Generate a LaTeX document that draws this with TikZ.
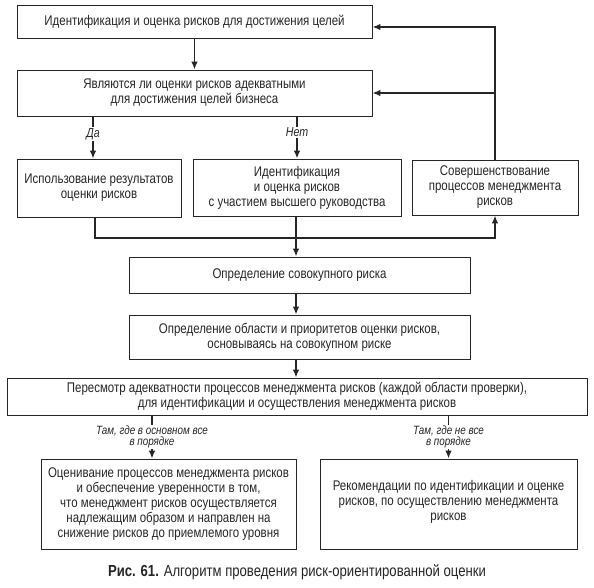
\documentclass[tikz,border=0pt]{standalone}
\usepackage{fontspec}
\setmainfont{Liberation Sans}[FakeStretch=0.82]
\usetikzlibrary{arrows.meta}
\begin{document}
\begin{tikzpicture}[x=1pt,y=-1pt,
  box/.style={draw=black!85, line width=0.8pt, align=center, inner sep=0pt, text=black!85,
    font=\fontsize{14}{15}\selectfont},
  conn/.style={line width=1.8pt, draw=black!85, line join=miter},
  arr/.style={conn, -{Latex[length=8pt,width=6.5pt]}},
  lbl/.style={fill=white, inner sep=1pt, text=black!85, align=center,
    font=\fontsize{12}{11.5}\selectfont\itshape}]
\useasboundingbox[fill=white] (0,0) rectangle (594,588);

\node[box, minimum width=355pt, minimum height=33pt] (b1) at (194.5,21.5)
  {Идентификация и оценка рисков для достижения целей};
\node[box, minimum width=355pt, minimum height=46pt] (b2) at (194.5,93)
  {Являются ли оценки рисков адекватными\\для достижения целей бизнеса};
\node[box, minimum width=164pt, minimum height=58pt] (A) at (99,188)
  {Использование результатов\\оценки рисков};
\node[box, minimum width=208pt, minimum height=57pt] (B) at (297,187.5)
  {Идентификация\\и оценка рисков\\с участием высшего руководства};
\node[box, minimum width=166pt, minimum height=55pt] (C) at (495,187.5)
  {Совершенствование\\процессов менеджмента\\рисков};
\node[box, minimum width=341pt, minimum height=36pt] (D) at (299.5,275)
  {Определение совокупного риска};
\node[box, minimum width=341pt, minimum height=44pt] (E) at (299.5,337)
  {Определение области и приоритетов оценки рисков,\\основываясь на совокупном риске};
\node[box, minimum width=580pt, minimum height=37pt] (F) at (297,396.5)
  {Пересмотр адекватности процессов менеджмента рисков (каждой области проверки),\\для идентификации и осуществления менеджмента рисков};
\node[box, minimum width=255pt, minimum height=90pt] (G) at (168.5,504)
  {Оценивание процессов менеджмента рисков\\и обеспечение уверенности в том,\\что менеджмент рисков осуществляется\\надлежащим образом и направлен на\\снижение рисков до приемлемого уровня};
\node[box, minimum width=257pt, minimum height=90pt] (H) at (448.5,504)
  {Рекомендации по идентификации и оценке\\рисков, по осуществлению менеджмента\\рисков\\[-8pt]};
\node[text=black!85, font=\fontsize{16}{17}\selectfont] (cap) at (297,572)
  {\textbf{Рис. 61.} Алгоритм проведения риск-ориентированной оценки};

\coordinate (fb) at (495,27);
\coordinate (da) at (93,0);
\coordinate (j) at (95,238);
\coordinate (mc) at (296,0);
\coordinate (gl) at (152,0);

\draw[arr] (b1) -- (b2);
\draw[arr] (C.north) -- (fb) -- (fb -| b1.east);
\draw[arr] (b2.east -| C.north) -- (b2.east);
\draw[arr] (da |- b2.south) -- (da |- A.north) node[lbl, pos=0.42, font=\fontsize{13}{13}\selectfont\itshape] {Да};
\draw[arr] (B.north |- b2.south) -- (B.north) node[lbl, pos=0.38, font=\fontsize{13}{13}\selectfont\itshape] {Нет};
\draw[arr] (A.south -| j) -- (j) -- (j -| C.south) -- (C.south);
\draw[arr] (mc |- B.south) -- (mc |- D.north);
\draw[arr] (mc |- D.south) -- (mc |- E.north);
\draw[arr] (mc |- E.south) -- (mc |- F.north);
\draw[arr] (gl |- F.south) -- (gl |- G.north) node[lbl, midway] {Там, где в основном все\\в порядке};
\draw[arr] (H.north |- F.south) -- (H.north) node[lbl, midway] {Там, где не все\\в порядке};
\end{tikzpicture}
\end{document}
